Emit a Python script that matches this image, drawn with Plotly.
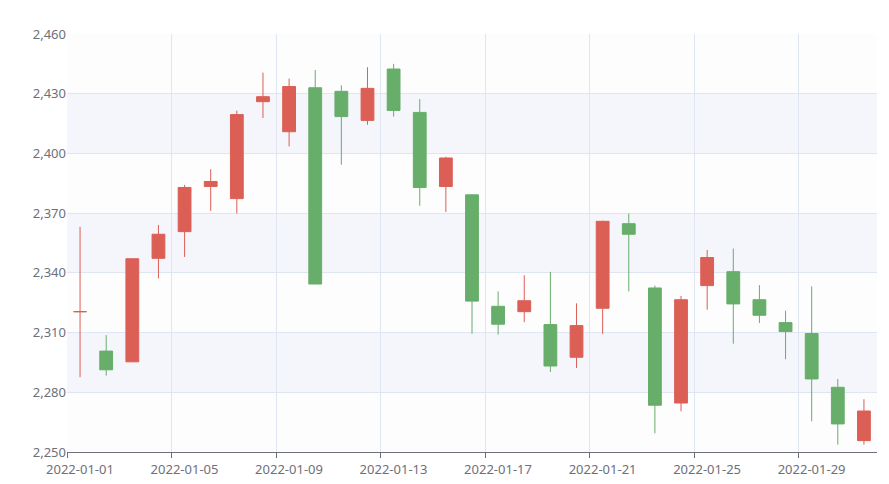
import plotly.graph_objects as go

dates = [f"2022-01-{d:02d}" for d in range(1, 32)]
opens = [2320.5, 2300.7, 2295.3, 2347.3, 2360.7, 2383.4, 2377.3, 2426.0, 2410.9, 2433.0,
         2431.2, 2416.6, 2442.4, 2420.6, 2383.4, 2379.2, 2323.2, 2320.5, 2314.0, 2297.6,
         2322.2, 2364.7, 2332.4, 2274.6, 2333.6, 2340.6, 2326.5, 2315.0, 2309.5, 2282.5, 2255.7]
closes = [2320.5, 2291.3, 2347.1, 2359.4, 2382.9, 2385.9, 2419.5, 2428.5, 2433.6, 2334.4,
          2418.5, 2432.7, 2421.6, 2382.9, 2397.7, 2325.8, 2314.2, 2326.0, 2293.2, 2313.5,
          2365.9, 2359.4, 2273.5, 2326.5, 2347.7, 2324.4, 2318.7, 2310.5, 2286.7, 2264.1, 2270.6]
highs = [2363.1, 2308.7, 2347.1, 2364.1, 2384.2, 2392.1, 2421.5, 2440.6, 2437.6, 2441.9,
         2434.2, 2443.3, 2445.0, 2427.3, 2398.3, 2379.2, 2330.7, 2338.8, 2340.5, 2324.7,
         2366.2, 2369.8, 2333.6, 2328.4, 2351.5, 2352.2, 2333.8, 2321.0, 2333.2, 2286.7, 2276.5]
lows = [2287.6, 2288.4, 2295.3, 2337.2, 2348.0, 2371.1, 2369.8, 2417.8, 2403.5, 2334.4,
        2394.3, 2414.4, 2418.5, 2373.7, 2370.6, 2309.4, 2309.0, 2315.2, 2290.2, 2292.2,
        2309.3, 2330.7, 2259.4, 2270.4, 2321.5, 2304.4, 2314.8, 2296.6, 2265.4, 2253.7, 2253.7]
y_ticks = [2250, 2280, 2310, 2340, 2370, 2400, 2430, 2460]

idx = list(range(len(dates)))
red = "#dc5f56"
green = "#66ae69"

fig = go.Figure()
fig.add_trace(go.Candlestick(
    x=idx, open=opens, high=highs, low=lows, close=closes,
    increasing=dict(line=dict(color=red, width=1), fillcolor=red),
    decreasing=dict(line=dict(color=green, width=1), fillcolor=green),
    whiskerwidth=0, showlegend=False,
))

# alternating background bands
for i in range(len(y_ticks) - 1):
    if i % 2 == 1:
        fig.add_hrect(y0=y_ticks[i], y1=y_ticks[i + 1], fillcolor="#f5f6fb",
                      line_width=0, layer="below")

tick_pos = [i - 0.5 for i in idx if i % 4 == 0]
fig.update_layout(
    width=889, height=484,
    margin=dict(l=59, r=20, t=26, b=40),
    plot_bgcolor="#fdfdfe", paper_bgcolor="white",
    font=dict(family="Noto Sans", size=13, color="#6e7079"),
    xaxis=dict(
        range=[-0.5, len(idx) - 0.5], rangeslider=dict(visible=False),
        tickvals=tick_pos, ticktext=[dates[int(p + 0.5)] for p in tick_pos],
        ticklabelshift=13, ticks="outside", ticklen=5, tickcolor="#6e7079",
        showline=True, linecolor="#6e7079", showgrid=True, gridcolor="#e0e6f1",
        zeroline=False, automargin=False,
    ),
    yaxis=dict(
        range=[y_ticks[0], y_ticks[-1]], tickvals=y_ticks, tickformat=",d",
        showgrid=True, gridcolor="#e0e6f1", zeroline=False, ticks="",
        automargin=False,
    ),
)
fig.write_html("out.html")
